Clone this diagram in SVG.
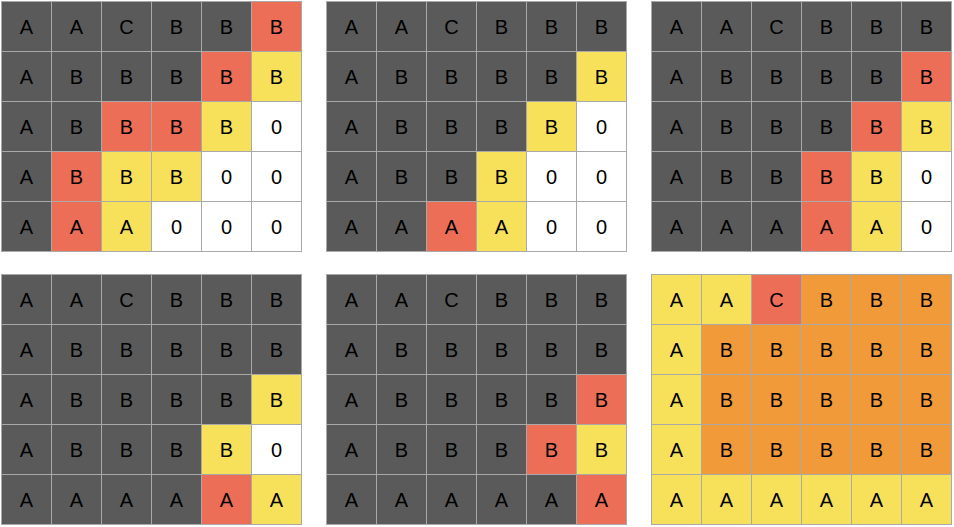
<svg xmlns="http://www.w3.org/2000/svg" width="954" height="527" viewBox="0 0 954 527">
<style>
.g rect{stroke:#a9a9a9;stroke-width:1}
.d{fill:#5a5a5a}.r{fill:#ed6e56}.y{fill:#f7e05a}.o{fill:#f09a3a}.w{fill:#ffffff}
text{font-family:"Liberation Sans",Arial,sans-serif;font-size:20px;fill:#000;text-anchor:middle}
</style>
<rect x="0" y="0" width="954" height="527" fill="#fff"/>
<g id="grid1" class="g" transform="translate(1.5,1.5)">
<rect class="d" x="0" y="0" width="50" height="50"/><rect class="d" x="50" y="0" width="50" height="50"/><rect class="d" x="100" y="0" width="50" height="50"/><rect class="d" x="150" y="0" width="50" height="50"/><rect class="d" x="200" y="0" width="50" height="50"/><rect class="r" x="250" y="0" width="50" height="50"/>
<rect class="d" x="0" y="50" width="50" height="50"/><rect class="d" x="50" y="50" width="50" height="50"/><rect class="d" x="100" y="50" width="50" height="50"/><rect class="d" x="150" y="50" width="50" height="50"/><rect class="r" x="200" y="50" width="50" height="50"/><rect class="y" x="250" y="50" width="50" height="50"/>
<rect class="d" x="0" y="100" width="50" height="50"/><rect class="d" x="50" y="100" width="50" height="50"/><rect class="r" x="100" y="100" width="50" height="50"/><rect class="r" x="150" y="100" width="50" height="50"/><rect class="y" x="200" y="100" width="50" height="50"/><rect class="w" x="250" y="100" width="50" height="50"/>
<rect class="d" x="0" y="150" width="50" height="50"/><rect class="r" x="50" y="150" width="50" height="50"/><rect class="y" x="100" y="150" width="50" height="50"/><rect class="y" x="150" y="150" width="50" height="50"/><rect class="w" x="200" y="150" width="50" height="50"/><rect class="w" x="250" y="150" width="50" height="50"/>
<rect class="d" x="0" y="200" width="50" height="50"/><rect class="r" x="50" y="200" width="50" height="50"/><rect class="y" x="100" y="200" width="50" height="50"/><rect class="w" x="150" y="200" width="50" height="50"/><rect class="w" x="200" y="200" width="50" height="50"/><rect class="w" x="250" y="200" width="50" height="50"/>
<text x="25" y="32">A</text><text x="75" y="32">A</text><text x="125" y="32">C</text><text x="175" y="32">B</text><text x="225" y="32">B</text><text x="275" y="32">B</text>
<text x="25" y="82">A</text><text x="75" y="82">B</text><text x="125" y="82">B</text><text x="175" y="82">B</text><text x="225" y="82">B</text><text x="275" y="82">B</text>
<text x="25" y="132">A</text><text x="75" y="132">B</text><text x="125" y="132">B</text><text x="175" y="132">B</text><text x="225" y="132">B</text><text x="275" y="132">0</text>
<text x="25" y="182">A</text><text x="75" y="182">B</text><text x="125" y="182">B</text><text x="175" y="182">B</text><text x="225" y="182">0</text><text x="275" y="182">0</text>
<text x="25" y="232">A</text><text x="75" y="232">A</text><text x="125" y="232">A</text><text x="175" y="232">0</text><text x="225" y="232">0</text><text x="275" y="232">0</text>
</g>
<g id="grid2" class="g" transform="translate(326.5,1.5)">
<rect class="d" x="0" y="0" width="50" height="50"/><rect class="d" x="50" y="0" width="50" height="50"/><rect class="d" x="100" y="0" width="50" height="50"/><rect class="d" x="150" y="0" width="50" height="50"/><rect class="d" x="200" y="0" width="50" height="50"/><rect class="d" x="250" y="0" width="50" height="50"/>
<rect class="d" x="0" y="50" width="50" height="50"/><rect class="d" x="50" y="50" width="50" height="50"/><rect class="d" x="100" y="50" width="50" height="50"/><rect class="d" x="150" y="50" width="50" height="50"/><rect class="d" x="200" y="50" width="50" height="50"/><rect class="y" x="250" y="50" width="50" height="50"/>
<rect class="d" x="0" y="100" width="50" height="50"/><rect class="d" x="50" y="100" width="50" height="50"/><rect class="d" x="100" y="100" width="50" height="50"/><rect class="d" x="150" y="100" width="50" height="50"/><rect class="y" x="200" y="100" width="50" height="50"/><rect class="w" x="250" y="100" width="50" height="50"/>
<rect class="d" x="0" y="150" width="50" height="50"/><rect class="d" x="50" y="150" width="50" height="50"/><rect class="d" x="100" y="150" width="50" height="50"/><rect class="y" x="150" y="150" width="50" height="50"/><rect class="w" x="200" y="150" width="50" height="50"/><rect class="w" x="250" y="150" width="50" height="50"/>
<rect class="d" x="0" y="200" width="50" height="50"/><rect class="d" x="50" y="200" width="50" height="50"/><rect class="r" x="100" y="200" width="50" height="50"/><rect class="y" x="150" y="200" width="50" height="50"/><rect class="w" x="200" y="200" width="50" height="50"/><rect class="w" x="250" y="200" width="50" height="50"/>
<text x="25" y="32">A</text><text x="75" y="32">A</text><text x="125" y="32">C</text><text x="175" y="32">B</text><text x="225" y="32">B</text><text x="275" y="32">B</text>
<text x="25" y="82">A</text><text x="75" y="82">B</text><text x="125" y="82">B</text><text x="175" y="82">B</text><text x="225" y="82">B</text><text x="275" y="82">B</text>
<text x="25" y="132">A</text><text x="75" y="132">B</text><text x="125" y="132">B</text><text x="175" y="132">B</text><text x="225" y="132">B</text><text x="275" y="132">0</text>
<text x="25" y="182">A</text><text x="75" y="182">B</text><text x="125" y="182">B</text><text x="175" y="182">B</text><text x="225" y="182">0</text><text x="275" y="182">0</text>
<text x="25" y="232">A</text><text x="75" y="232">A</text><text x="125" y="232">A</text><text x="175" y="232">A</text><text x="225" y="232">0</text><text x="275" y="232">0</text>
</g>
<g id="grid3" class="g" transform="translate(651.5,1.5)">
<rect class="d" x="0" y="0" width="50" height="50"/><rect class="d" x="50" y="0" width="50" height="50"/><rect class="d" x="100" y="0" width="50" height="50"/><rect class="d" x="150" y="0" width="50" height="50"/><rect class="d" x="200" y="0" width="50" height="50"/><rect class="d" x="250" y="0" width="50" height="50"/>
<rect class="d" x="0" y="50" width="50" height="50"/><rect class="d" x="50" y="50" width="50" height="50"/><rect class="d" x="100" y="50" width="50" height="50"/><rect class="d" x="150" y="50" width="50" height="50"/><rect class="d" x="200" y="50" width="50" height="50"/><rect class="r" x="250" y="50" width="50" height="50"/>
<rect class="d" x="0" y="100" width="50" height="50"/><rect class="d" x="50" y="100" width="50" height="50"/><rect class="d" x="100" y="100" width="50" height="50"/><rect class="d" x="150" y="100" width="50" height="50"/><rect class="r" x="200" y="100" width="50" height="50"/><rect class="y" x="250" y="100" width="50" height="50"/>
<rect class="d" x="0" y="150" width="50" height="50"/><rect class="d" x="50" y="150" width="50" height="50"/><rect class="d" x="100" y="150" width="50" height="50"/><rect class="r" x="150" y="150" width="50" height="50"/><rect class="y" x="200" y="150" width="50" height="50"/><rect class="w" x="250" y="150" width="50" height="50"/>
<rect class="d" x="0" y="200" width="50" height="50"/><rect class="d" x="50" y="200" width="50" height="50"/><rect class="d" x="100" y="200" width="50" height="50"/><rect class="r" x="150" y="200" width="50" height="50"/><rect class="y" x="200" y="200" width="50" height="50"/><rect class="w" x="250" y="200" width="50" height="50"/>
<text x="25" y="32">A</text><text x="75" y="32">A</text><text x="125" y="32">C</text><text x="175" y="32">B</text><text x="225" y="32">B</text><text x="275" y="32">B</text>
<text x="25" y="82">A</text><text x="75" y="82">B</text><text x="125" y="82">B</text><text x="175" y="82">B</text><text x="225" y="82">B</text><text x="275" y="82">B</text>
<text x="25" y="132">A</text><text x="75" y="132">B</text><text x="125" y="132">B</text><text x="175" y="132">B</text><text x="225" y="132">B</text><text x="275" y="132">B</text>
<text x="25" y="182">A</text><text x="75" y="182">B</text><text x="125" y="182">B</text><text x="175" y="182">B</text><text x="225" y="182">B</text><text x="275" y="182">0</text>
<text x="25" y="232">A</text><text x="75" y="232">A</text><text x="125" y="232">A</text><text x="175" y="232">A</text><text x="225" y="232">A</text><text x="275" y="232">0</text>
</g>
<g id="grid4" class="g" transform="translate(1.5,274.5)">
<rect class="d" x="0" y="0" width="50" height="50"/><rect class="d" x="50" y="0" width="50" height="50"/><rect class="d" x="100" y="0" width="50" height="50"/><rect class="d" x="150" y="0" width="50" height="50"/><rect class="d" x="200" y="0" width="50" height="50"/><rect class="d" x="250" y="0" width="50" height="50"/>
<rect class="d" x="0" y="50" width="50" height="50"/><rect class="d" x="50" y="50" width="50" height="50"/><rect class="d" x="100" y="50" width="50" height="50"/><rect class="d" x="150" y="50" width="50" height="50"/><rect class="d" x="200" y="50" width="50" height="50"/><rect class="d" x="250" y="50" width="50" height="50"/>
<rect class="d" x="0" y="100" width="50" height="50"/><rect class="d" x="50" y="100" width="50" height="50"/><rect class="d" x="100" y="100" width="50" height="50"/><rect class="d" x="150" y="100" width="50" height="50"/><rect class="d" x="200" y="100" width="50" height="50"/><rect class="y" x="250" y="100" width="50" height="50"/>
<rect class="d" x="0" y="150" width="50" height="50"/><rect class="d" x="50" y="150" width="50" height="50"/><rect class="d" x="100" y="150" width="50" height="50"/><rect class="d" x="150" y="150" width="50" height="50"/><rect class="y" x="200" y="150" width="50" height="50"/><rect class="w" x="250" y="150" width="50" height="50"/>
<rect class="d" x="0" y="200" width="50" height="50"/><rect class="d" x="50" y="200" width="50" height="50"/><rect class="d" x="100" y="200" width="50" height="50"/><rect class="d" x="150" y="200" width="50" height="50"/><rect class="r" x="200" y="200" width="50" height="50"/><rect class="y" x="250" y="200" width="50" height="50"/>
<text x="25" y="32">A</text><text x="75" y="32">A</text><text x="125" y="32">C</text><text x="175" y="32">B</text><text x="225" y="32">B</text><text x="275" y="32">B</text>
<text x="25" y="82">A</text><text x="75" y="82">B</text><text x="125" y="82">B</text><text x="175" y="82">B</text><text x="225" y="82">B</text><text x="275" y="82">B</text>
<text x="25" y="132">A</text><text x="75" y="132">B</text><text x="125" y="132">B</text><text x="175" y="132">B</text><text x="225" y="132">B</text><text x="275" y="132">B</text>
<text x="25" y="182">A</text><text x="75" y="182">B</text><text x="125" y="182">B</text><text x="175" y="182">B</text><text x="225" y="182">B</text><text x="275" y="182">0</text>
<text x="25" y="232">A</text><text x="75" y="232">A</text><text x="125" y="232">A</text><text x="175" y="232">A</text><text x="225" y="232">A</text><text x="275" y="232">A</text>
</g>
<g id="grid5" class="g" transform="translate(326.5,274.5)">
<rect class="d" x="0" y="0" width="50" height="50"/><rect class="d" x="50" y="0" width="50" height="50"/><rect class="d" x="100" y="0" width="50" height="50"/><rect class="d" x="150" y="0" width="50" height="50"/><rect class="d" x="200" y="0" width="50" height="50"/><rect class="d" x="250" y="0" width="50" height="50"/>
<rect class="d" x="0" y="50" width="50" height="50"/><rect class="d" x="50" y="50" width="50" height="50"/><rect class="d" x="100" y="50" width="50" height="50"/><rect class="d" x="150" y="50" width="50" height="50"/><rect class="d" x="200" y="50" width="50" height="50"/><rect class="d" x="250" y="50" width="50" height="50"/>
<rect class="d" x="0" y="100" width="50" height="50"/><rect class="d" x="50" y="100" width="50" height="50"/><rect class="d" x="100" y="100" width="50" height="50"/><rect class="d" x="150" y="100" width="50" height="50"/><rect class="d" x="200" y="100" width="50" height="50"/><rect class="r" x="250" y="100" width="50" height="50"/>
<rect class="d" x="0" y="150" width="50" height="50"/><rect class="d" x="50" y="150" width="50" height="50"/><rect class="d" x="100" y="150" width="50" height="50"/><rect class="d" x="150" y="150" width="50" height="50"/><rect class="r" x="200" y="150" width="50" height="50"/><rect class="y" x="250" y="150" width="50" height="50"/>
<rect class="d" x="0" y="200" width="50" height="50"/><rect class="d" x="50" y="200" width="50" height="50"/><rect class="d" x="100" y="200" width="50" height="50"/><rect class="d" x="150" y="200" width="50" height="50"/><rect class="d" x="200" y="200" width="50" height="50"/><rect class="r" x="250" y="200" width="50" height="50"/>
<text x="25" y="32">A</text><text x="75" y="32">A</text><text x="125" y="32">C</text><text x="175" y="32">B</text><text x="225" y="32">B</text><text x="275" y="32">B</text>
<text x="25" y="82">A</text><text x="75" y="82">B</text><text x="125" y="82">B</text><text x="175" y="82">B</text><text x="225" y="82">B</text><text x="275" y="82">B</text>
<text x="25" y="132">A</text><text x="75" y="132">B</text><text x="125" y="132">B</text><text x="175" y="132">B</text><text x="225" y="132">B</text><text x="275" y="132">B</text>
<text x="25" y="182">A</text><text x="75" y="182">B</text><text x="125" y="182">B</text><text x="175" y="182">B</text><text x="225" y="182">B</text><text x="275" y="182">B</text>
<text x="25" y="232">A</text><text x="75" y="232">A</text><text x="125" y="232">A</text><text x="175" y="232">A</text><text x="225" y="232">A</text><text x="275" y="232">A</text>
</g>
<g id="grid6" class="g" transform="translate(651.5,274.5)">
<rect class="y" x="0" y="0" width="50" height="50"/><rect class="y" x="50" y="0" width="50" height="50"/><rect class="r" x="100" y="0" width="50" height="50"/><rect class="o" x="150" y="0" width="50" height="50"/><rect class="o" x="200" y="0" width="50" height="50"/><rect class="o" x="250" y="0" width="50" height="50"/>
<rect class="y" x="0" y="50" width="50" height="50"/><rect class="o" x="50" y="50" width="50" height="50"/><rect class="o" x="100" y="50" width="50" height="50"/><rect class="o" x="150" y="50" width="50" height="50"/><rect class="o" x="200" y="50" width="50" height="50"/><rect class="o" x="250" y="50" width="50" height="50"/>
<rect class="y" x="0" y="100" width="50" height="50"/><rect class="o" x="50" y="100" width="50" height="50"/><rect class="o" x="100" y="100" width="50" height="50"/><rect class="o" x="150" y="100" width="50" height="50"/><rect class="o" x="200" y="100" width="50" height="50"/><rect class="o" x="250" y="100" width="50" height="50"/>
<rect class="y" x="0" y="150" width="50" height="50"/><rect class="o" x="50" y="150" width="50" height="50"/><rect class="o" x="100" y="150" width="50" height="50"/><rect class="o" x="150" y="150" width="50" height="50"/><rect class="o" x="200" y="150" width="50" height="50"/><rect class="o" x="250" y="150" width="50" height="50"/>
<rect class="y" x="0" y="200" width="50" height="50"/><rect class="y" x="50" y="200" width="50" height="50"/><rect class="y" x="100" y="200" width="50" height="50"/><rect class="y" x="150" y="200" width="50" height="50"/><rect class="y" x="200" y="200" width="50" height="50"/><rect class="y" x="250" y="200" width="50" height="50"/>
<text x="25" y="32">A</text><text x="75" y="32">A</text><text x="125" y="32">C</text><text x="175" y="32">B</text><text x="225" y="32">B</text><text x="275" y="32">B</text>
<text x="25" y="82">A</text><text x="75" y="82">B</text><text x="125" y="82">B</text><text x="175" y="82">B</text><text x="225" y="82">B</text><text x="275" y="82">B</text>
<text x="25" y="132">A</text><text x="75" y="132">B</text><text x="125" y="132">B</text><text x="175" y="132">B</text><text x="225" y="132">B</text><text x="275" y="132">B</text>
<text x="25" y="182">A</text><text x="75" y="182">B</text><text x="125" y="182">B</text><text x="175" y="182">B</text><text x="225" y="182">B</text><text x="275" y="182">B</text>
<text x="25" y="232">A</text><text x="75" y="232">A</text><text x="125" y="232">A</text><text x="175" y="232">A</text><text x="225" y="232">A</text><text x="275" y="232">A</text>
</g>
</svg>
